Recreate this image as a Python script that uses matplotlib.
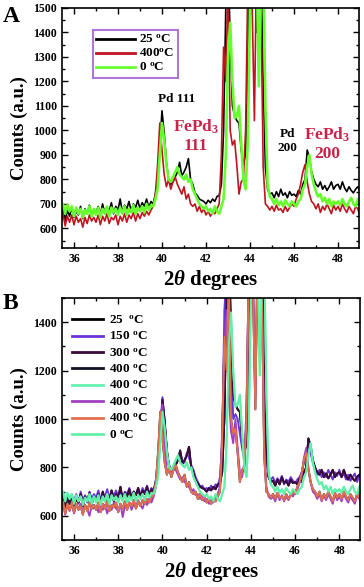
import numpy as np
import matplotlib
matplotlib.use("Agg")
import matplotlib.pyplot as plt
from matplotlib.ticker import MultipleLocator

plt.rcParams['font.family'] = ['Liberation Serif', 'DejaVu Serif']
plt.rcParams['font.weight'] = 'bold'
plt.rcParams['mathtext.fontset'] = 'custom'
plt.rcParams['mathtext.rm'] = 'Liberation Serif:bold'
plt.rcParams['mathtext.bf'] = 'Liberation Serif:bold'
plt.rcParams['mathtext.it'] = 'Liberation Serif:italic:bold'

# 2-theta sample positions (degrees), 0.1 deg step from 35.4 to 49.0
two_theta = np.round(np.arange(35.4, 49.05, 0.1), 1)

counts_25C = [
    640, 690, 630, 675, 650, 685,
    645, 670, 655, 690, 640, 680, 660, 695, 650, 675,
    665, 690, 655, 700, 660, 685, 670, 705, 660, 690,
    675, 720, 665, 695, 680, 710, 670, 700, 685, 715,
    680, 705, 690, 720, 685, 710, 700, 740, 800, 930,
    1080, 990, 870, 800, 780, 790, 810, 830, 870, 815,
    830, 850, 885, 800, 780, 745, 735, 720, 715, 710,
    700, 715, 705, 720, 710, 730, 735, 780, 1000, 1500,
    1700, 1380, 1100, 1060, 1040, 1030, 920, 860, 900, 1250,
    1800, 2000, 1900, 1400, 1900, 1700, 1200, 850, 760, 740,
    745, 725, 750, 730, 760, 735, 745, 725, 750, 735,
    740, 730, 755, 740, 780, 800, 920, 890, 830, 800,
    780, 770, 790, 760, 775, 755, 770, 790, 760, 775,
    780, 760, 790, 765, 750, 770, 755, 745, 760, 770,
    755]

counts_400C = [
    620, 660, 610, 650, 625, 655,
    615, 650, 625, 640, 605, 645, 620, 655, 630, 645,
    625, 655, 615, 650, 630, 660, 620, 645, 635, 655,
    615, 650, 630, 660, 625, 655, 640, 665, 630, 660,
    640, 665, 650, 670, 655, 675, 690, 740, 860, 1030,
    920, 820, 770, 800, 760, 790, 810, 780, 760, 740,
    770, 720, 740, 700, 690, 700, 670, 690, 665, 680,
    655, 670, 650, 665, 660, 680, 700, 900, 1340, 1200,
    1600, 1000, 940, 960, 860, 740, 790, 800, 1000, 1600,
    1800, 1500, 1040, 1700, 1900, 1500, 850, 700, 690, 675,
    690, 670, 695, 675, 680, 665, 690, 670, 685, 700,
    690, 720, 740, 780, 830, 860, 790, 740, 710, 700,
    680, 700, 665, 690, 675, 700, 680, 660, 695, 675,
    690, 670, 700, 680, 665, 690, 675, 660, 690, 680,
    650]

counts_0C = [
    680, 700, 660, 695, 670, 690,
    650, 685, 660, 680, 645, 675, 660, 690, 650, 680,
    655, 685, 645, 680, 660, 690, 650, 685, 665, 680,
    655, 685, 660, 690, 655, 680, 665, 695, 660, 685,
    670, 690, 665, 700, 675, 695, 690, 720, 760, 900,
    1030, 960, 860, 800, 790, 810, 830, 850, 820, 810,
    800, 820, 790, 800, 760, 740, 720, 700, 690, 680,
    690, 670, 680, 660, 690, 670, 660, 690, 720, 900,
    1300, 1440, 1200, 1050, 1060, 1100, 950, 800, 760, 950,
    1500, 1800, 1900, 1700, 1180, 1600, 1700, 1100, 780, 730,
    720, 700, 720, 695, 710, 690, 715, 700, 690, 710,
    700, 690, 710, 720, 760, 780, 850, 900, 820, 780,
    750, 730, 740, 710, 725, 700, 720, 690, 710, 700,
    710, 695, 720, 700, 690, 710, 725, 700, 690, 720,
    700]

counts_150C = [
    650, 700, 660, 690, 655, 680,
    660, 690, 650, 700, 665, 685, 655, 700, 670, 690,
    675, 705, 665, 695, 680, 710, 670, 700, 685, 705,
    680, 705, 670, 700, 690, 715, 680, 700, 690, 710,
    685, 715, 695, 725, 690, 715, 705, 750, 820, 960,
    1090, 980, 860, 810, 790, 800, 820, 840, 860, 830,
    820, 860, 840, 810, 790, 760, 740, 720, 725, 710,
    715, 705, 725, 710, 730, 720, 760, 900, 1450, 1600,
    1400, 1250, 1000, 1020, 1000, 940, 880, 830, 1000, 1500,
    1900, 2000, 1700, 1500, 1800, 1600, 1500, 900, 760, 750,
    760, 735, 755, 740, 765, 730, 750, 740, 760, 745,
    735, 750, 760, 780, 820, 860, 900, 860, 820, 790,
    770, 790, 760, 780, 760, 790, 770, 750, 780, 765,
    790, 760, 775, 750, 770, 745, 760, 775, 740, 765,
    760]

counts_400C_b = [
    630, 655, 605, 645, 620, 650,
    610, 645, 630, 650, 615, 640, 625, 600, 645, 630,
    640, 615, 650, 625, 645, 610, 640, 625, 655, 630,
    620, 650, 595, 640, 630, 655, 625, 650, 635, 665,
    645, 630, 660, 645, 670, 655, 680, 720, 850, 1000,
    1060, 880, 780, 790, 770, 800, 790, 770, 750, 760,
    740, 730, 720, 700, 710, 685, 690, 670, 680, 660,
    670, 650, 665, 655, 670, 690, 720, 950, 1300, 1450,
    1100, 950, 900, 1000, 880, 780, 760, 820, 1050, 1600,
    1900, 1600, 1100, 1650, 1800, 1500, 900, 720, 680, 670,
    680, 660, 690, 665, 685, 660, 680, 665, 690, 680,
    700, 710, 735, 770, 840, 880, 800, 740, 700, 690,
    670, 690, 660, 685, 665, 690, 670, 650, 690, 665,
    680, 660, 690, 670, 655, 680, 665, 650, 685, 670,
    660]

deg = r'$^{\rm o}$'
labels_A = ['25 ' + deg + 'C', '400' + deg + 'C', '0 ' + deg + 'C']
labels_B = ['25  ' + deg + 'C', '150 ' + deg + 'C', '300 ' + deg + 'C', '400 ' + deg + 'C',
            '400 ' + deg + 'C', '400 ' + deg + 'C', '400 ' + deg + 'C', '0 ' + deg + 'C']

fig = plt.figure(figsize=(3.64, 5.87), dpi=100)

def style_axes(ax, ymin, ymax, ymajor, yminor):
    ax.set_xlim(35.45, 48.95)
    ax.set_ylim(ymin, ymax)
    ax.xaxis.set_major_locator(MultipleLocator(2))
    ax.xaxis.set_minor_locator(MultipleLocator(1))
    ax.yaxis.set_major_locator(MultipleLocator(ymajor))
    ax.yaxis.set_minor_locator(MultipleLocator(yminor))
    ax.tick_params(which='both', direction='in', top=True, right=True,
                   labelsize=8.5, width=1.0)
    ax.tick_params(which='major', length=4)
    ax.tick_params(which='minor', length=2.5)
    for lab in ax.get_xticklabels() + ax.get_yticklabels():
        lab.set_fontweight('bold')
    for sp in ax.spines.values():
        sp.set_linewidth(1.2)
    ax.set_xlabel(r'$2\theta$ degrees', fontsize=15, fontweight='bold', labelpad=2)
    ax.set_ylabel('Counts (a.u.)', fontsize=13.5, fontweight='bold', labelpad=4)

# ---------------- Panel A ----------------
axA = fig.add_axes([0.170, 0.5775, 0.816, 0.409])
axA.plot(two_theta, counts_25C, color='black', lw=1.2, label=labels_A[0])
axA.plot(two_theta, counts_400C, color='#c0141e', lw=1.2, label=labels_A[1])
axA.plot(two_theta, counts_0C, color='#66ff2e', lw=1.9, label=labels_A[2])
style_axes(axA, 520, 1500, 100, 50)
axA.set_yticks(np.arange(600, 1501, 100))
legA = axA.legend(loc='upper left', bbox_to_anchor=(0.081, 0.935),
                  frameon=True, fancybox=False, edgecolor='#9955cc',
                  handlelength=2.9, handletextpad=0.3, borderpad=0.3,
                  labelspacing=0.12, prop={'weight': 'bold', 'size': 9.5})
legA.get_frame().set_linewidth(1.5)
for lh in legA.get_lines():
    lh.set_linewidth(2.0)

crimson = '#c8234a'
axA.text(40.65, 1130, 'Pd 111', fontsize=9.5, fontweight='bold', ha='center', va='center')
axA.text(41.55, 1015, r'FePd$_{3}$', fontsize=12.5, fontweight='bold', color=crimson,
         ha='center', va='center')
axA.text(41.55, 937, '111', fontsize=12.5, fontweight='bold', color=crimson,
         ha='center', va='center')
axA.text(45.72, 985, 'Pd', fontsize=9.5, fontweight='bold', ha='center', va='center')
axA.text(45.72, 930, '200', fontsize=9.5, fontweight='bold', ha='center', va='center')
axA.text(47.5, 983, r'FePd$_{3}$', fontsize=12.5, fontweight='bold', color=crimson,
         ha='center', va='center')
axA.text(47.5, 905, '200', fontsize=12.5, fontweight='bold', color=crimson,
         ha='center', va='center')
fig.text(0.008, 0.972, 'A', fontsize=17, fontweight='bold', va='center', ha='left')

# ---------------- Panel B ----------------
axB = fig.add_axes([0.170, 0.080, 0.820, 0.4123])
seriesB = [counts_25C, counts_150C, counts_25C, counts_400C,
           counts_0C, counts_400C_b, counts_400C, counts_0C]
colorsB = ['black', '#6a35d8', '#3a0a3a', '#101028',
           '#66f0b0', '#a040c0', '#e07050', '#60f0a8']
for ys, c, lab in zip(seriesB, colorsB, labels_B):
    axB.plot(two_theta, ys, color=c, lw=1.4, label=lab)
style_axes(axB, 500, 1500, 200, 100)
axB.set_yticks(np.arange(600, 1401, 200))
legB = axB.legend(loc='upper left', bbox_to_anchor=(0.0, 0.975), frameon=False,
                  handlelength=2.3, handletextpad=0.5, borderpad=0.3,
                  labelspacing=0.3, prop={'weight': 'bold', 'size': 9.5})
for lh in legB.get_lines():
    lh.set_linewidth(2.0)
fig.text(0.008, 0.483, 'B', fontsize=17, fontweight='bold', va='center', ha='left')

fig.savefig('out.png', dpi=100)
